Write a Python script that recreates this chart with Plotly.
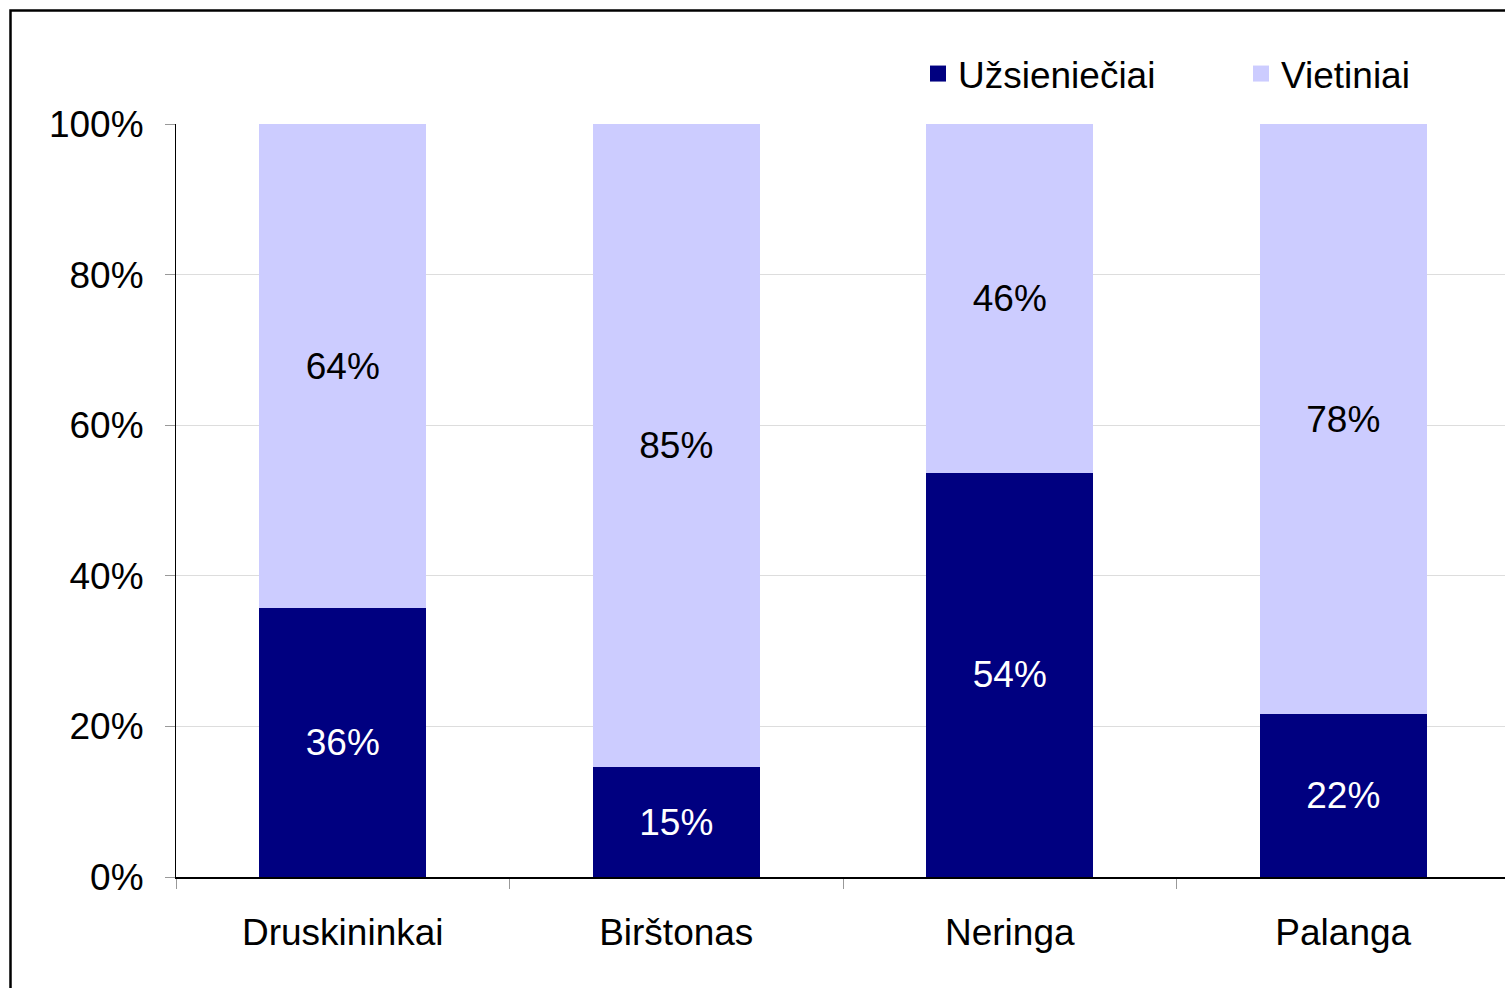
import plotly.graph_objects as go

# resorts and shares of guests
resorts = ["Druskininkai", "Birštonas", "Neringa", "Palanga"]
foreign = [0.357, 0.146, 0.537, 0.216]   # Užsieniečiai
local = [0.643, 0.854, 0.463, 0.784]     # Vietiniai

FONT = "Liberation Sans, Arial, sans-serif"
W, H = 1505, 988
L, R, T, B = 176, 0, 124, 111
pw = W - L - R
ph = H - T - B
cat_w = 333.5  # px per category; the right edge of the chart is cut off

series = [
    ("Užsieniečiai", foreign, "#000080", "white", "legend"),
    ("Vietiniai", local, "#CCCCFF", "black", "legend2"),
]

fig = go.Figure()
for name, vals, color, txtcolor, leg in series:
    fig.add_trace(go.Bar(
        x=resorts, y=vals, name=name, showlegend=False,
        marker=dict(color=color, line=dict(width=0)),
        texttemplate="%{y:.0%}", textposition="inside", insidetextanchor="middle",
        textfont=dict(color=txtcolor, size=37, family=FONT),
    ))
    # legend entry with a larger square swatch
    fig.add_trace(go.Scatter(
        x=[None], y=[None], mode="markers", name=name, legend=leg,
        marker=dict(symbol="square", size=18, color=color),
    ))

legend_common = dict(
    orientation="h", xanchor="left", yanchor="middle",
    y=(H - B - 74) / ph, font=dict(size=37),
    bgcolor="rgba(0,0,0,0)", visible=True,
)

fig.update_layout(
    width=W, height=H,
    barmode="stack", bargap=0.5,
    margin=dict(l=L, r=R, t=T, b=B, autoexpand=False),
    paper_bgcolor="white", plot_bgcolor="white",
    font=dict(family=FONT, size=37, color="black"),
    hovermode=False, showlegend=True,
    uniformtext=dict(minsize=37, mode="show"),
    legend=dict(x=(918 - L) / pw, **legend_common),
    legend2=dict(x=(1241 - L) / pw, **legend_common),
    xaxis=dict(
        range=[-0.5, -0.5 + pw / cat_w],
        showline=True, linecolor="black", linewidth=1.5,
        ticks="outside", tickson="boundaries", ticklen=10, tickcolor="#999999",
        ticklabelstandoff=22, showgrid=False,
    ),
    yaxis=dict(
        range=[0, 1], dtick=0.2, tickformat=".0%",
        showline=True, linecolor="black", linewidth=1,
        ticks="outside", ticklen=10, tickcolor="#999999",
        ticklabelstandoff=14,
        showgrid=True, gridcolor="#dddddd", gridwidth=1,
        zeroline=False,
    ),
    shapes=[dict(
        type="rect", xref="paper", yref="paper",
        x0=(10.5 - L) / pw, x1=(W + 20 - L) / pw,
        y0=(H - B - (H + 20)) / ph, y1=(H - B - 10.5) / ph,
        line=dict(color="black", width=2.5), fillcolor="rgba(0,0,0,0)",
        layer="above",
    )],
)

fig.write_html("out.html", config={"displayModeBar": False},
               post_script="document.body.style.margin='0';")
